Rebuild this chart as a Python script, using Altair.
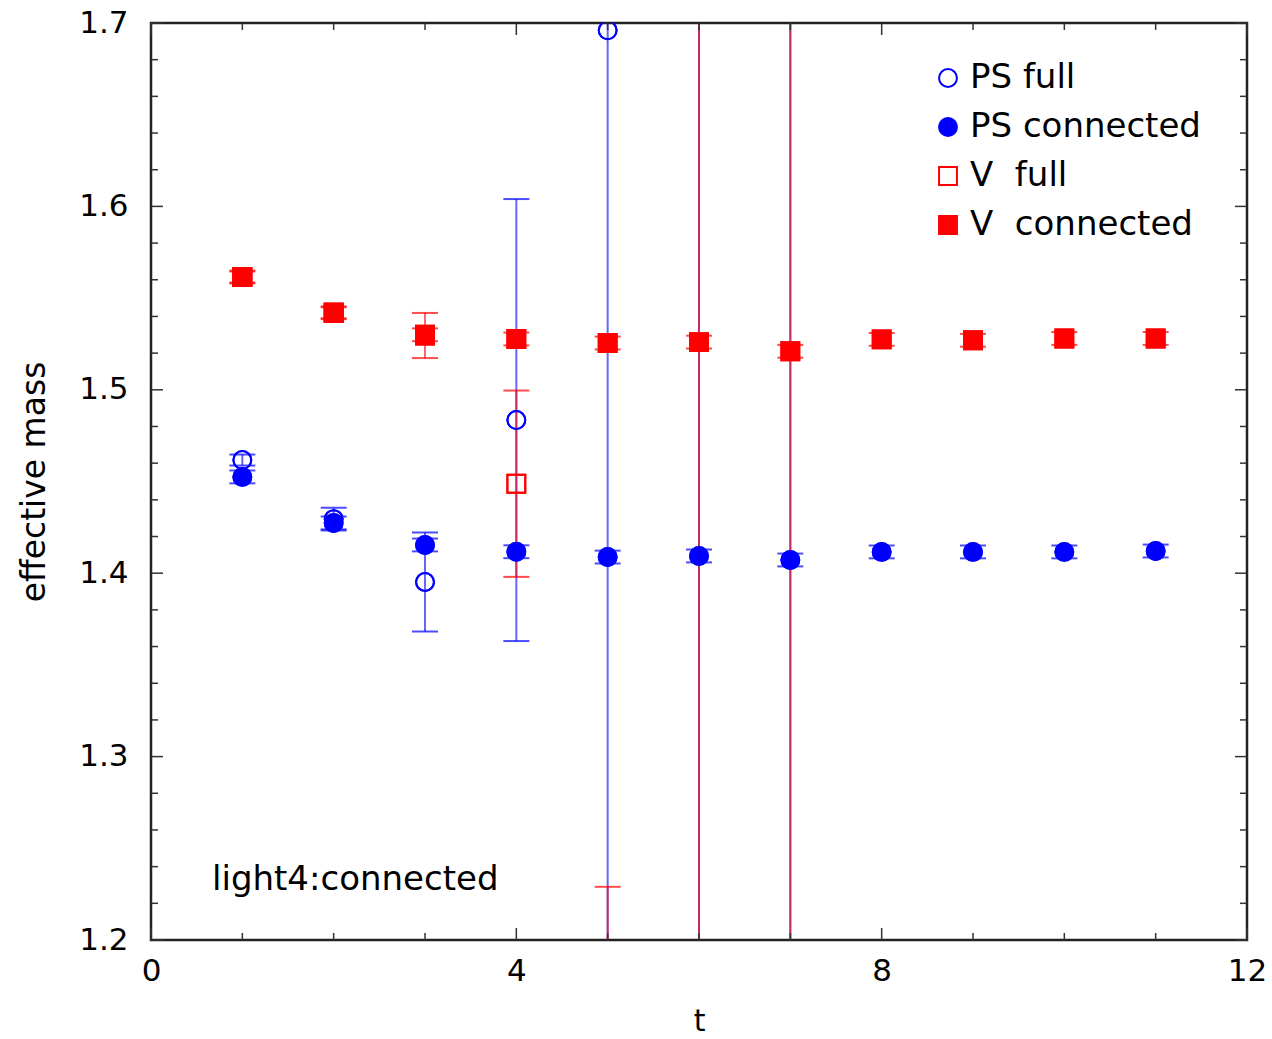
import altair as alt
import pandas as pd

# ---------------- data ----------------
t_all = [1, 2, 3, 4, 5, 6, 7, 8, 9, 10, 11]

ps_conn_val = [1.4525, 1.4274, 1.4154, 1.4117, 1.4088, 1.4094, 1.4072, 1.4116, 1.4116, 1.4116, 1.4121]
ps_conn_err = [0.0035, 0.0035, 0.0035, 0.0035, 0.0035, 0.0035, 0.0035, 0.0035, 0.0035, 0.0035, 0.0035]

v_conn_val = [1.5615, 1.5420, 1.5300, 1.5277, 1.5255, 1.5260, 1.5210, 1.5275, 1.5270, 1.5280, 1.5280]
v_conn_err = [0.0035, 0.0035, 0.0035, 0.0035, 0.0035, 0.0035, 0.0035, 0.0035, 0.0035, 0.0035, 0.0035]

ps_full_t = [1, 2, 3, 4, 5, 6, 7]
ps_full_val = [1.4617, 1.4295, 1.3952, 1.4835, 1.6960, 1.8500, 1.9000]
ps_full_err = [0.0030, 0.0062, 0.0270, 0.1205, 0.8000, 0.9000, 1.0000]

v_full_t = [1, 2, 3, 4, 5, 6, 7]
v_full_val = [1.5615, 1.5420, 1.5296, 1.4488, 0.9500, 1.9000, 2.0000]
v_full_err = [0.0030, 0.0030, 0.0123, 0.0508, 0.2790, 1.0000, 1.2000]

series_names = ["PS full", "PS connected", "V\u00a0\u00a0full", "V\u00a0\u00a0connected"]
series_shapes = ["circle", "circle", "square", "square"]
series_fill = ["transparent", "#0000ff", "transparent", "#ff0000"]
series_stroke = ["#0000ff", "#0000ff", "#ff0000", "#ff0000"]

y_major = [1.2, 1.3, 1.4, 1.5, 1.6, 1.7]
y_minor = [1.22, 1.24, 1.26, 1.28, 1.32, 1.34, 1.36, 1.38, 1.42, 1.44, 1.46, 1.48,
           1.52, 1.54, 1.56, 1.58, 1.62, 1.64, 1.66, 1.68]
x_major = [0, 4, 8, 12]
x_minor = [1, 2, 3, 5, 6, 7, 9, 10, 11]

annotation = "light4:connected"

# ---------------- table ----------------
frames = [
    pd.DataFrame({"t": ps_full_t, "val": ps_full_val, "err": ps_full_err, "series": series_names[0]}),
    pd.DataFrame({"t": t_all, "val": ps_conn_val, "err": ps_conn_err, "series": series_names[1]}),
    pd.DataFrame({"t": v_full_t, "val": v_full_val, "err": v_full_err, "series": series_names[2]}),
    pd.DataFrame({"t": t_all, "val": v_conn_val, "err": v_conn_err, "series": series_names[3]}),
]
df = pd.concat(frames, ignore_index=True)
df["lo"] = df["val"] - df["err"]
df["hi"] = df["val"] + df["err"]

W, H = 1096, 917
FONT = "DejaVu Sans"

xscale = alt.Scale(domain=[0, 12], nice=False, zero=False)
yscale = alt.Scale(domain=[1.2, 1.7], nice=False, zero=False)

legend = alt.Legend(
    orient="none", legendX=780, legendY=38, title=None,
    labelFont=FONT, labelFontSize=34, labelColor="#000", labelLimit=500,
    symbolSize=320, symbolStrokeWidth=2, rowPadding=15,
    labelOffset=5, padding=0,
)

base = alt.Chart(df)
bar_color = alt.Color("series:N", scale=alt.Scale(domain=series_names, range=series_stroke), legend=None)

bars = base.mark_rule(strokeWidth=2, opacity=0.6, clip=True).encode(
    x=alt.X("t:Q", scale=xscale),
    y=alt.Y("lo:Q", scale=yscale),
    y2="hi:Q",
    color=bar_color,
)

caps_lo = base.mark_tick(orient="horizontal", size=26, thickness=2, opacity=0.7, clip=True).encode(
    x=alt.X("t:Q", scale=xscale),
    y=alt.Y("lo:Q", scale=yscale),
    color=bar_color,
)
caps_hi = base.mark_tick(orient="horizontal", size=26, thickness=2, opacity=0.7, clip=True).encode(
    x=alt.X("t:Q", scale=xscale),
    y=alt.Y("hi:Q", scale=yscale),
    color=bar_color,
)

points = base.mark_point(size=320, strokeWidth=2, opacity=1, clip=True).encode(
    x=alt.X("t:Q", scale=xscale, title="t",
            axis=alt.Axis(values=x_major, format="d", grid=False, ticks=False, tickSize=0, domain=False,
                          labelFlush=False, labelFont=FONT, labelFontSize=31, labelColor="#000",
                          labelPadding=16,
                          titleFont=FONT, titleFontSize=30, titleFontWeight="normal", titleColor="#000",
                          titlePadding=20)),
    y=alt.Y("val:Q", scale=yscale, title="effective mass",
            axis=alt.Axis(values=y_major, format=".1f", grid=False, ticks=False, tickSize=0, domain=False,
                          labelFlush=False, labelFont=FONT, labelFontSize=31, labelColor="#000",
                          labelPadding=23,
                          titleFont=FONT, titleFontSize=33, titleFontWeight="normal", titleColor="#000",
                          titlePadding=27)),
    shape=alt.Shape("series:N", scale=alt.Scale(domain=series_names, range=series_shapes), legend=legend),
    fill=alt.Fill("series:N", scale=alt.Scale(domain=series_names, range=series_fill), legend=legend),
    stroke=alt.Stroke("series:N", scale=alt.Scale(domain=series_names, range=series_stroke), legend=legend),
)

TICK_COLOR = "#333333"
ymaj = alt.Chart(pd.DataFrame({"v": y_major}))
ymin = alt.Chart(pd.DataFrame({"v": y_minor}))
xmaj = alt.Chart(pd.DataFrame({"v": x_major}))
xmin = alt.Chart(pd.DataFrame({"v": x_minor}))

def yticks(src, length):
    left = src.mark_rule(color=TICK_COLOR, strokeWidth=1.5).encode(
        y=alt.Y("v:Q", scale=yscale), x=alt.value(0), x2=alt.value(length))
    right = src.mark_rule(color=TICK_COLOR, strokeWidth=1.5).encode(
        y=alt.Y("v:Q", scale=yscale), x=alt.value(W - length), x2=alt.value(W))
    return [left, right]

def xticks(src, length):
    bottom = src.mark_rule(color=TICK_COLOR, strokeWidth=1.5).encode(
        x=alt.X("v:Q", scale=xscale), y=alt.value(H - length), y2=alt.value(H))
    top = src.mark_rule(color=TICK_COLOR, strokeWidth=1.5).encode(
        x=alt.X("v:Q", scale=xscale), y=alt.value(0), y2=alt.value(length))
    return [bottom, top]

text = alt.Chart(pd.DataFrame({"label": [annotation]})).mark_text(
    align="left", baseline="alphabetic", font=FONT, fontSize=34, color="#000"
).encode(text="label:N", x=alt.value(61), y=alt.value(867))

layers = [points, bars, caps_lo, caps_hi]
layers += yticks(ymaj, 12) + yticks(ymin, 7) + xticks(xmaj, 12) + xticks(xmin, 7)
layers += [text, points]

chart = alt.layer(*layers).properties(
    width=W, height=H,
    autosize=alt.AutoSizeParams(type="none"),
    padding={"left": 151, "top": 23, "right": 25, "bottom": 99},
).configure(
    background="white"
).configure_view(
    stroke="#222222", strokeWidth=2.5
)

chart.save("out.html", embed_options={"renderer": "svg", "actions": False})
